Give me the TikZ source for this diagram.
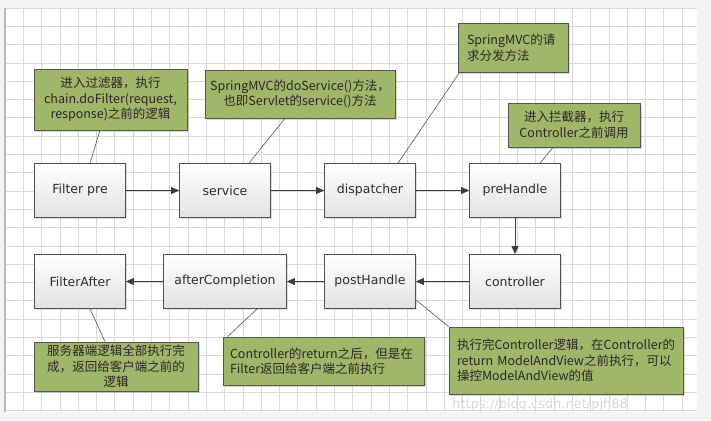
\documentclass[tikz,border=0pt]{standalone}
\usepackage{fontspec}
\newfontfamily\cjk{Noto Sans CJK SC}
\newfontfamily\lab{DejaVu Sans}
\usetikzlibrary{arrows.meta,shadows}
\definecolor{notefill}{RGB}{160,182,104}
\definecolor{noteline}{RGB}{85,85,85}
\definecolor{notetext}{RGB}{40,40,40}
\definecolor{boxline}{RGB}{80,80,80}
\definecolor{boxbot}{RGB}{226,226,226}
\definecolor{textcol}{RGB}{45,45,45}
\definecolor{gridcol}{RGB}{218,218,218}
\definecolor{bgcol}{RGB}{243,243,243}
\definecolor{arrcol}{RGB}{60,60,60}
\tikzset{
  stepbox/.style={draw=boxline, line width=0.8bp, top color=white, bottom color=boxbot,
    minimum height=54bp, minimum width=91bp, inner sep=0pt,
    font=\lab\fontsize{12.5bp}{15bp}\selectfont, text=textcol,
    drop shadow={shadow xshift=1.2bp, shadow yshift=-1.2bp, opacity=0.25, fill=gray}},
  note/.style={draw=noteline, line width=0.8bp, fill=notefill, inner ysep=0pt,
    font=\cjk\fontsize{12.5bp}{15.5bp}\selectfont, text=notetext,
    drop shadow={shadow xshift=1.5bp, shadow yshift=-1.5bp, opacity=0.3, fill=gray}},
  flow/.style={draw=arrcol, line width=0.8bp, -{Triangle[length=8bp,width=7bp]}},
  link/.style={draw=noteline, line width=0.6bp}
}
\begin{document}
\begin{tikzpicture}[x=1bp,y=-1bp]
\useasboundingbox (0,0) rectangle (711,420);
\fill[bgcol] (0,0) rectangle (711,420);
\fill[white] (5,8) rectangle (697,412);
\foreach \i in {0,...,37} \draw[gridcol, line width=0.7bp] ({5+18.3*\i},8) -- ({5+18.3*\i},412);
\foreach \j in {0,...,22} \draw[gridcol, line width=0.7bp] (5,{8+18.3*\j}) -- (697,{8+18.3*\j});
\draw[gray!55, line width=1.2bp] (5,8) -- (5,412);

% process boxes
\node[stepbox] (fpre) at (80,190.5) {Filter pre};
\node[stepbox] (serv) at (225,190.5) {service};
\node[stepbox] (disp) at (370,190.5) {dispatcher};
\node[stepbox] (preh) at (515,190.5) {preHandle};
\node[stepbox] (ctrl) at (515,281.5) {controller};
\node[stepbox] (posth) at (370,281.5) {postHandle};
\node[stepbox, minimum width=123bp] (afterc) at (225,281.5) {afterCompletion};
\node[stepbox] (fafter) at (80,281.5) {FilterAfter};

% flow arrows
\draw[flow] (fpre) -- (serv);
\draw[flow] (serv) -- (disp);
\draw[flow] (disp) -- (preh);
\draw[flow] (preh) -- (ctrl);
\draw[flow] (ctrl) -- (posth);
\draw[flow] (posth) -- (afterc);
\draw[flow] (afterc) -- (fafter);

% notes
\node[note, minimum width=153bp, minimum height=61bp, text width=141bp, inner xsep=6bp, align=center] (n1) at (110.5,99.5)
  {进入过滤器，执行\\chain.doFilter(request,\\response)之前的逻辑};
\node[note, minimum width=190bp, minimum height=48bp, text width=184bp, inner xsep=3bp, align=center] (n2) at (300,94)
  {SpringMVC的doService()方法，\\也即Servlet的service()方法};
\node[note, minimum width=110bp, minimum height=49bp, text width=92bp, inner xsep=9bp, align=left] (n3) at (513,47.5)
  {SpringMVC的请\\求分发方法};
\node[note, minimum width=132bp, minimum height=44bp, text width=122bp, inner xsep=5bp, align=center] (n4) at (574,125)
  {进入拦截器，执行\\Controller之前调用};
\node[note, minimum width=164bp, minimum height=49bp, text width=154bp, inner xsep=5bp, align=center] (n5) at (116,366.5)
  {服务器端逻辑全部执行完\\成，返回给客户端之前的\\逻辑};
\node[note, minimum width=201bp, minimum height=48bp, text width=187bp, inner xsep=7bp, align=left] (n6) at (323.5,361)
  {Controller的return之后，但是在\\Filter返回给客户端之前执行};
\node[note, minimum width=234bp, minimum height=67bp, text width=218bp, inner xsep=8bp, align=left] (n7) at (566,360.5)
  {执行完Controller逻辑，在Controller的\\return ModelAndView之前执行，可以\\操控ModelAndView的值};

% note connectors
\draw[link] ([xshift=-10.5bp]n1.south) -- ([xshift=10bp]fpre.north);
\draw[link] ([xshift=-15bp]n2.south) -- ([xshift=24bp]serv.north);
\draw[link] ([xshift=2bp]n3.south west) -- ([xshift=28bp]disp.north);
\draw[link] ([xshift=-21bp]n4.south) -- ([xshift=25bp]preh.north);
\draw[link] ([xshift=10bp]fafter.south) -- ([xshift=-11bp]n5.north);
\draw[link] ([xshift=32bp]afterc.south) -- ([xshift=5bp]n6.north west);
\draw[link] ([yshift=9bp]posth.south east) -- (n7.north west);

% watermark
\node[anchor=west, text=gray!30, font=\lab\fontsize{13bp}{15bp}\selectfont, inner sep=0pt] (wm) at (452,405) {https://blog.csdn.net/pjh88};
\end{tikzpicture}
\end{document}
